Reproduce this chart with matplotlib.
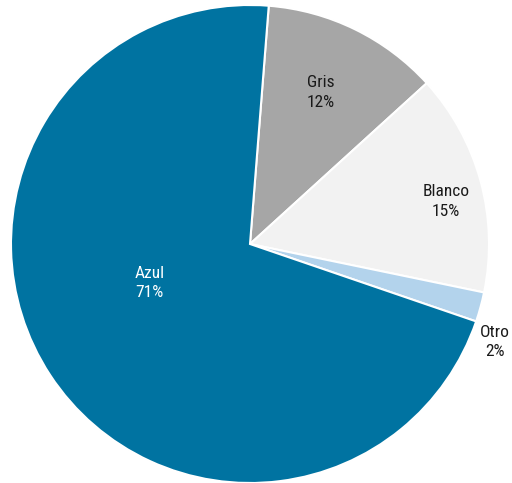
import matplotlib
matplotlib.use('Agg')
import matplotlib.pyplot as plt
import numpy as np

labels = ['Gris', 'Blanco', 'Otro', 'Azul']
shares = [12, 15, 2, 71]
colors = ['#a6a6a6', '#f2f2f2', '#b3d3ec', '#0073a1']
text_colors = ['#1a1a1a', '#1a1a1a', '#1a1a1a', '#ffffff']
# radial distance (fraction of radius) and angular nudge for each label
label_r = [0.70, 0.84, 1.105, 0.45]
label_shift = [1, -3, -6.5, -12]

plt.rcParams['font.family'] = ['Roboto Condensed', 'DejaVu Sans']

fig = plt.figure(figsize=(5.12, 4.83), dpi=100)
ax = fig.add_axes([0, 0, 1, 1])

cx, cy, R = 250, 239, 239
wedges, _ = ax.pie(shares, colors=colors, startangle=85.5, counterclock=False,
                   center=(cx, cy), radius=R, frame=True,
                   wedgeprops=dict(edgecolor='white', linewidth=1.5))
ax.set_xlim(0, 512)
ax.set_ylim(0, 483)
ax.set_aspect('equal')
ax.axis('off')

for w, lab, val, tc, r, sh in zip(wedges, labels, shares, text_colors, label_r, label_shift):
    mid = np.deg2rad((w.theta1 + w.theta2) / 2 + sh)
    x = cx + r * R * np.cos(mid)
    y = cy + r * R * np.sin(mid)
    ax.text(x, y, f'{lab}\n{val}%', ha='center', va='center', color=tc,
            fontsize=12.5, linespacing=1.4)

fig.savefig('out.png', dpi=100)
